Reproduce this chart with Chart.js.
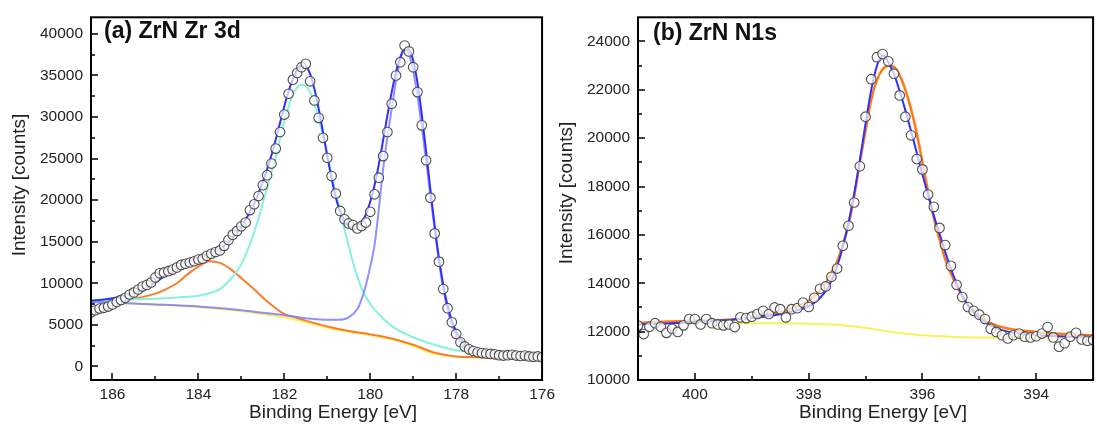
<!DOCTYPE html>
<html><head><meta charset="utf-8">
<script src="https://cdn.jsdelivr.net/npm/chart.js@4.4.0/dist/chart.umd.min.js"></script>
<style>
html,body{margin:0;padding:0;background:#fff;width:1097px;height:430px;overflow:hidden}
#ca{position:absolute;left:0;top:0}
#cb{position:absolute;left:553px;top:0}
</style></head><body>
<canvas id="ca" width="560" height="430"></canvas>
<canvas id="cb" width="546" height="430"></canvas>
<script>
// ---------- Panel (a): ZrN Zr 3d ----------
const zrEnergy = [186.5,186.4,186.3,186.2,186.1,186.0,185.9,185.8,185.7,185.6,185.5,185.4,185.3,185.2,185.1,185.0,184.9,184.8,184.7,184.6,184.5,184.4,184.3,184.2,184.1,184.0,183.9,183.8,183.7,183.6,183.5,183.4,183.3,183.2,183.1,183.0,182.9,182.8,182.7,182.6,182.5,182.4,182.3,182.2,182.1,182.0,181.9,181.8,181.7,181.6,181.5,181.4,181.3,181.2,181.1,181.0,180.9,180.8,180.7,180.6,180.5,180.4,180.3,180.2,180.1,180.0,179.9,179.8,179.7,179.6,179.5,179.4,179.3,179.2,179.1,179.0,178.9,178.8,178.7,178.6,178.5,178.4,178.3,178.2,178.1,178.0,177.9,177.8,177.7,177.6,177.5,177.4,177.3,177.2,177.1,177.0,176.9,176.8,176.7,176.6,176.5,176.4,176.3,176.2,176.1,176.0];
const zrCounts = [6500,6750,6950,7050,7200,7450,7750,8000,8250,8650,8900,9250,9600,9800,10100,10700,11200,11300,11450,11650,11900,12200,12350,12500,12650,12850,12950,13300,13550,13750,13950,14500,15200,15850,16300,16850,17300,18800,19500,20500,21800,23000,24400,26200,28200,30300,32800,34500,35300,36000,36400,34300,32000,29900,27500,25100,22900,20800,18700,17700,17200,17000,16600,16900,17300,18600,20700,22700,25300,28200,31600,35000,36600,38600,37900,36000,33000,29000,24800,20300,16000,12600,9300,7000,5300,3900,2900,2400,2050,1850,1700,1600,1550,1500,1450,1350,1300,1350,1400,1300,1250,1300,1200,1150,1200,1100];

const zrFitEnergy = [186.5,186.4,186.3,186.2,186.1,186.0,185.9,185.8,185.7,185.6,185.5,185.4,185.3,185.2,185.1,185.0,184.9,184.8,184.7,184.6,184.5,184.4,184.3,184.2,184.1,184.0,183.9,183.8,183.7,183.6,183.5,183.4,183.3,183.2,183.1,183.0,182.9,182.8,182.7,182.6,182.5,182.4,182.3,182.2,182.1,182.0,181.9,181.8,181.7,181.6,181.5,181.4,181.3,181.2,181.1,181.0,180.9,180.8,180.7,180.6,180.5,180.4,180.3,180.2,180.1,180.0,179.9,179.8,179.7,179.6,179.5,179.4,179.3,179.2,179.1,179.0,178.9,178.8,178.7,178.6,178.5,178.4,178.3,178.2,178.1,178.0,177.9,177.8,177.7,177.6,177.5,177.4,177.3,177.2,177.1,177.0,176.5,176.0];
const zrFit = [7900,7950,8000,8050,8100,8200,8300,8400,8500,8650,8800,9000,9250,9500,9800,10100,10450,10800,11150,11500,11850,12150,12400,12650,12850,13050,13250,13450,13650,13900,14150,14500,14950,15500,16150,16850,17650,18600,19650,20850,22200,23700,25400,27300,29300,31300,33100,34600,35700,36200,36100,35200,33400,31000,28200,25300,22600,20300,18600,17500,16900,16700,16800,17300,18300,19800,21800,24300,27200,30200,33000,35400,37200,38200,38100,36800,34100,30300,25900,21300,16900,13000,9800,7300,5500,4200,3300,2700,2300,2050,1850,1750,1650,1600,1550,1500,1400,1350];

const zr32Energy = [186.5,186.0,185.5,185.0,184.5,184.0,183.75,183.5,183.25,183.0,182.8,182.6,182.4,182.2,182.0,181.8,181.6,181.4,181.2,181.0,180.8,180.6,180.4,180.2,180.0,179.75,179.5,179.0,178.5,178.0,177.5,177.0,176.5,176.0];
const zr32 = [7800,7950,8080,8150,8300,8500,8800,9300,10500,12300,14700,17800,21500,25200,29500,32700,33900,33000,29800,25500,20800,16500,12500,9400,7500,6000,4850,3500,2600,1950,1650,1450,1350,1300];

const zr52Energy = [186.5,186.0,185.0,184.0,183.0,182.5,182.0,181.5,181.0,180.75,180.5,180.3,180.2,180.1,180.0,179.9,179.8,179.7,179.6,179.5,179.4,179.3,179.2,179.1,179.0,178.9,178.8,178.7,178.6,178.5,178.4,178.3,178.2,178.1,178.0,177.9,177.8,177.6,177.3,177.0,176.5,176.0];
const zr52 = [7750,7650,7450,7200,6750,6450,6150,5800,5600,5600,5900,6900,8100,9800,12000,14600,18900,23700,27600,31000,34300,36900,38200,37600,35500,32500,28800,24800,20500,16500,12600,9300,6800,5000,3800,2900,2400,1900,1550,1400,1250,1150];

const zrSatEnergy = [186.5,186.0,185.5,185.0,184.75,184.5,184.25,184.0,183.75,183.5,183.25,183.0,182.75,182.5,182.25,182.0,181.75,181.5,181.0,180.5,180.0,179.5,179.0,178.5,178.0,177.5,177.0,176.0];
const zrSat = [7850,7950,8150,8750,9300,10000,11100,12000,12650,12450,11700,10600,9500,8300,7200,6300,5900,5500,4800,4250,3850,3350,2600,1650,1200,1100,1050,1000];

const zrBgEnergy = [186.5,186.0,185.5,185.0,184.5,184.0,183.5,183.0,182.5,182.0,181.5,181.0,180.5,180.0,179.5,179.0,178.5,178.0,177.5,177.0,176.5,176.0];
const zrBg = [7750,7650,7550,7450,7300,7150,6900,6650,6300,5900,5300,4650,4150,3750,3250,2450,1500,1150,1080,1030,1000,1000];

const zrXTicks = [186,184,182,180,178,176];
const zrXMinor = [185,183,181,179,177];
const zrYTicks = [0,5000,10000,15000,20000,25000,30000,35000,40000];
const zrYMinor = [2500,7500,12500,17500,22500,27500,32500,37500];

// ---------- Panel (b): ZrN N1s ----------
const nEnergy = [401.0,400.9,400.8,400.7,400.6,400.5,400.4,400.3,400.2,400.1,400.0,399.9,399.8,399.7,399.6,399.5,399.4,399.3,399.2,399.1,399.0,398.9,398.8,398.7,398.6,398.5,398.4,398.3,398.2,398.1,398.0,397.9,397.8,397.7,397.6,397.5,397.4,397.3,397.2,397.1,397.0,396.9,396.8,396.7,396.6,396.5,396.4,396.3,396.2,396.1,396.0,395.9,395.8,395.7,395.6,395.5,395.4,395.3,395.2,395.1,395.0,394.9,394.8,394.7,394.6,394.5,394.4,394.3,394.2,394.1,394.0,393.9,393.8,393.7,393.6,393.5,393.4,393.3,393.2,393.1,393.0];
const nCounts = [12250,11900,12200,12350,12200,11950,12120,11990,12260,12520,12520,12300,12520,12350,12300,12260,12300,12190,12590,12560,12620,12730,12860,12730,13000,12930,12590,12930,12970,13200,13020,13400,13770,13870,14270,14610,15550,16380,17340,18840,20890,22440,23350,23480,23180,22670,21770,20890,20120,19140,18710,17670,17160,16290,15580,14720,13940,13430,13020,12860,12700,12520,12120,11990,11850,11720,11850,11920,11790,11760,11810,11920,12190,11760,11380,11520,11790,11950,11680,11620,11650];

const nFitEnergy = [401.0,400.5,400.0,399.5,399.0,398.5,398.25,398.0,397.9,397.8,397.7,397.6,397.5,397.4,397.3,397.2,397.1,397.0,396.9,396.8,396.75,396.7,396.65,396.6,396.5,396.4,396.3,396.2,396.1,396.0,395.9,395.8,395.7,395.6,395.5,395.4,395.3,395.2,395.1,395.0,394.75,394.5,394.0,393.5,393.0];
const nFit = [12300,12340,12400,12470,12560,12720,12850,13050,13200,13400,13680,14100,14700,15500,16500,17700,19100,20600,22000,23000,23300,23420,23350,23150,22650,21950,21150,20300,19400,18500,17650,16800,16050,15300,14600,14000,13500,13100,12800,12550,12200,12000,11850,11800,11780];

const nPeakEnergy = [401.0,400.5,400.0,399.5,399.0,398.75,398.5,398.25,398.0,397.8,397.7,397.6,397.5,397.4,397.3,397.2,397.1,397.0,396.9,396.8,396.7,396.6,396.5,396.4,396.3,396.2,396.1,396.0,395.9,395.8,395.7,395.6,395.5,395.4,395.3,395.2,395.0,394.75,394.5,394.0,393.5,393.0];
const nPeak = [12350,12420,12450,12480,12590,12700,12800,13000,13280,13700,14000,14450,14900,15600,16400,17600,19000,20300,21600,22400,22850,23000,22950,22600,22000,21200,20200,19000,17800,16700,15800,15000,14400,13900,13450,13100,12650,12300,12130,11990,11900,11850];

const nBgEnergy = [401.0,400.0,399.0,398.0,397.5,397.0,396.5,396.0,395.5,395.0,394.0,393.0];
const nBg = [12330,12370,12350,12330,12280,12150,11970,11850,11790,11760,11750,11780];

const nXTicks = [400,398,396,394];
const nXMinor = [399,397,395];
const nYTicks = [10000,12000,14000,16000,18000,20000,22000,24000];
const nYMinor = [11000,13000,15000,17000,19000,21000,23000];

const panelTitles = ['(a) ZrN Zr 3d', '(b) ZrN N1s'];
const xTitle = 'Binding Energy [eV]';
const yTitle = 'Intensity [counts]';

// ---------- helpers ----------
const xy = (xs, ys) => xs.map((v, i) => ({x: v, y: ys[i]}));
const FONT = '"Liberation Sans", Arial, sans-serif';

const frame = {
  id: 'frame',
  afterDraw(chart, args, o) {
    const {ctx, chartArea: a, scales: {x, y}} = chart;
    ctx.save();
    ctx.strokeStyle = '#000';
    ctx.lineWidth = 1.5;
    ctx.beginPath();
    o.xMajor.forEach(v => { const p = Math.round(x.getPixelForValue(v)); ctx.moveTo(p, a.bottom); ctx.lineTo(p, a.bottom - 7); });
    o.xMinor.forEach(v => { const p = Math.round(x.getPixelForValue(v)); ctx.moveTo(p, a.bottom); ctx.lineTo(p, a.bottom - 4); });
    o.yMajor.forEach(v => { const p = Math.round(y.getPixelForValue(v)); ctx.moveTo(a.left, p); ctx.lineTo(a.left + 7, p); });
    o.yMinor.forEach(v => { const p = Math.round(y.getPixelForValue(v)); ctx.moveTo(a.left, p); ctx.lineTo(a.left + 4, p); });
    ctx.stroke();
    ctx.lineWidth = 2;
    ctx.strokeRect(a.left, a.top, a.right - a.left, a.bottom - a.top);
    // panel title
    ctx.fillStyle = '#111';
    ctx.font = 'bold 23px ' + FONT;
    ctx.textAlign = 'left';
    ctx.textBaseline = 'alphabetic';
    ctx.fillText(o.title, o.tx, o.ty);
    // axis titles
    ctx.fillStyle = '#222';
    ctx.font = '19px ' + FONT;
    ctx.textAlign = 'center';
    ctx.textBaseline = 'middle';
    ctx.fillText(xTitle, o.xtx, o.xty);
    ctx.translate(o.ytx, o.yty);
    ctx.rotate(-Math.PI / 2);
    ctx.fillText(yTitle, 0, 0);
    ctx.restore();
  }
};

const dataStyle = {showLine: false, pointRadius: 4.8, pointBorderWidth: 1.1, pointBorderColor: '#4d4d4d', pointBackgroundColor: 'rgba(255,255,255,0.7)'};
const lineStyle = (c, w) => ({showLine: true, borderColor: c, borderWidth: w, pointRadius: 0, cubicInterpolationMode: 'monotone', fill: false});

function makeOpts(o) {
  return {
    responsive: false, animation: false, events: [],
    layout: {padding: {top: 7, right: o.padRight, left: 0, bottom: 0}},
    plugins: {legend: {display: false}, tooltip: {enabled: false}, frame: o.frame},
    scales: {
      x: {
        type: 'linear', reverse: true, min: o.xmin, max: o.xmax,
        grid: {display: false, drawTicks: false}, border: {display: false},
        afterBuildTicks: s => { s.ticks = o.xTicks.map(v => ({value: v})); },
        afterFit: s => { s.height = 50; },
        ticks: {font: {family: FONT, size: 15.5}, color: '#222', padding: 5, maxRotation: 0, autoSkip: false}
      },
      y: {
        type: 'linear', min: o.ymin, max: o.ymax,
        grid: {display: false, drawTicks: false}, border: {display: false},
        afterBuildTicks: s => { s.ticks = o.yTicks.map(v => ({value: v})); },
        afterFit: s => { s.width = o.yWidth; },
        ticks: {font: {family: FONT, size: 15.5}, color: '#222', padding: 8, autoSkip: false, callback: v => String(v)}
      }
    }
  };
}

new Chart(document.getElementById('ca'), {
  type: 'scatter',
  plugins: [frame],
  data: {datasets: [
    Object.assign({data: xy(zrEnergy, zrCounts)}, dataStyle),
    Object.assign({data: xy(zrFitEnergy, zrFit)}, lineStyle('#2f2fff', 2)),
    Object.assign({data: xy(zr52Energy, zr52)}, lineStyle('rgba(125,125,255,0.85)', 2)),
    Object.assign({data: xy(zr32Energy, zr32)}, lineStyle('#85f2dc', 2)),
    Object.assign({data: xy(zrSatEnergy, zrSat)}, lineStyle('#fa7d2e', 2)),
    Object.assign({data: xy(zrBgEnergy, zrBg)}, lineStyle('#f8f25a', 2))
  ]},
  options: makeOpts({
    padRight: 9, yWidth: 91, xmin: 176, xmax: 186.5, ymin: -1640, ymax: 42000,
    xTicks: zrXTicks, yTicks: zrYTicks,
    frame: {xMajor: zrXTicks, xMinor: zrXMinor, yMajor: zrYTicks, yMinor: zrYMinor,
      title: panelTitles[0], tx: 104, ty: 38, xtx: 333, xty: 413, ytx: 20, yty: 185}
  })
});

new Chart(document.getElementById('cb'), {
  type: 'scatter',
  plugins: [frame],
  data: {datasets: [
    Object.assign({data: xy(nEnergy, nCounts)}, dataStyle),
    Object.assign({data: xy(nFitEnergy, nFit)}, lineStyle('#2f2fff', 2)),
    Object.assign({data: xy(nPeakEnergy, nPeak)}, lineStyle('#ff7a14', 2.5)),
    Object.assign({data: xy(nBgEnergy, nBg)}, lineStyle('#f8f25a', 2))
  ]},
  options: makeOpts({
    padRight: 0, yWidth: 85, xmin: 393, xmax: 401, ymin: 10000, ymax: 25000,
    xTicks: nXTicks, yTicks: nYTicks,
    frame: {xMajor: nXTicks, xMinor: nXMinor, yMajor: nYTicks, yMinor: nYMinor,
      title: panelTitles[1], tx: 100, ty: 40, xtx: 330, xty: 413, ytx: 13.5, yty: 193}
  })
});
</script>
</body></html>
